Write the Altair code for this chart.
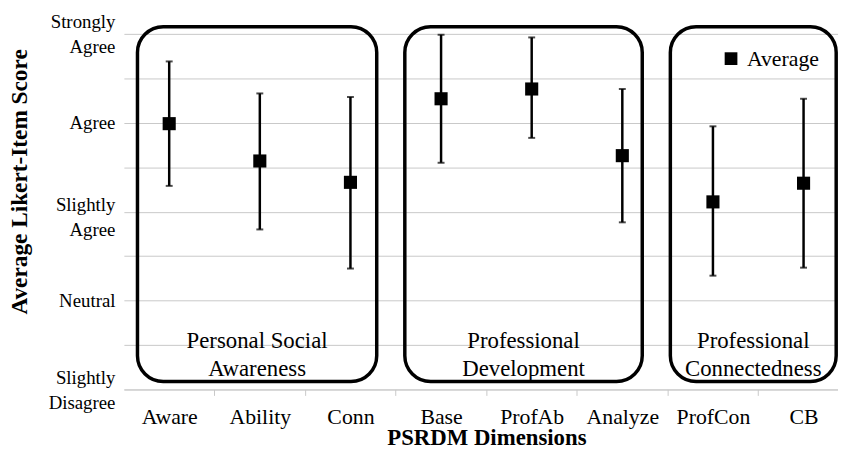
import altair as alt
import pandas as pd

# ---- data ----
categories = ["Aware", "Ability", "Conn", "Base", "ProfAb", "Analyze", "ProfCon", "CB"]
means = [5.99, 5.57, 5.33, 6.27, 6.38, 5.63, 5.11, 5.32]
lower = [5.29, 4.80, 4.36, 5.55, 5.83, 4.88, 4.28, 4.37]
upper = [6.69, 6.33, 6.29, 6.99, 6.96, 6.38, 5.96, 6.27]

likert_values = [3, 4, 5, 6, 7]
likert_labels = ["Slightly Disagree", "Neutral", "Slightly Agree", "Agree", "Strongly Agree"]

group_labels = ["Personal Social Awareness", "Professional Development", "Professional Connectedness"]
group_lines = [["Personal Social", "Awareness"], ["Professional", "Development"], ["Professional", "Connectedness"]]
group_start = [-0.35, 2.60, 5.53]   # box extents in category-index units
group_end = [2.29, 5.22, 7.36]
box_bottom = 3.09
box_top = 7.08
group_text_y = 3.54

FONT = "'Liberation Serif', 'Times New Roman', Times, 'DejaVu Serif', serif"

df = pd.DataFrame({
    "idx": list(range(len(categories))),
    "cat": categories,
    "mean": means,
    "lo": lower,
    "hi": upper,
    "series": ["Average"] * len(categories),
})

gdf = pd.DataFrame({
    "g": group_labels,
    "lines": group_lines,
    "x0": group_start,
    "x1": group_end,
    "xc": [(a + b) / 2 for a, b in zip(group_start, group_end)],
    "y0": [box_bottom] * 3,
    "y1": [box_top] * 3,
    "ty": [group_text_y] * 3,
})

# label expressions built from the lists
cat_expr = "[" + ",".join(f"'{c}'" for c in categories) + "][round(datum.value)]"
parts = []
for v, lab in zip(likert_values, likert_labels):
    words = lab.split(" ")
    if len(words) > 1:
        txt = "[" + ",".join(f"'{w}'" for w in words) + "]"
    else:
        txt = f"'{lab}'"
    parts.append(f"datum.value == {v} ? {txt} : ")
y_expr = "".join(parts) + "''"

xscale = alt.Scale(domain=[-0.5, 7.38], nice=False, zero=False)
yscale = alt.Scale(domain=[3, 7], nice=False, zero=False)

GRID = "#c8c8c8"

xaxis = alt.Axis(
    values=list(range(len(categories))),
    labelExpr=cat_expr,
    title="PSRDM Dimensions",
    titleFont=FONT, titleFontSize=23, titleFontWeight="bold", titleColor="black",
    titleX=366, titleY=56, titleAlign="center", titleBaseline="alphabetic", titleAnchor="middle",
    labelFont=FONT, labelFontSize=22, labelColor="black", labelBaseline="alphabetic",
    labelPadding=28, tickSize=6, tickColor=GRID, tickOffset=45.75, labelOffset=-45.75,
    domainColor=GRID, domainWidth=1, grid=False, labelFlush=False, labelOverlap=False,
)

yaxis = alt.Axis(
    values=[3, 3.5, 4, 4.5, 5, 5.5, 6, 6.5, 7],
    labelExpr=y_expr,
    title="Average Likert-Item Score",
    titleFont=FONT, titleFontSize=23.5, titleFontWeight="bold", titleColor="black",
    titleX=-105, titleY=149, titleAlign="center", titleBaseline="middle", titleAngle=-90,
    labelFont=FONT, labelFontSize=19, labelColor="black", labelLineHeight=25,
    labelBaseline="middle", labelAlign="right", labelPadding=9,
    labelOffset={"expr": "datum.value == 5 ? -7 : (datum.value == 3 || datum.value == 7) ? -12 : 0"},
    ticks=False, domain=False, grid=True, gridColor=GRID, gridWidth=1,
    labelFlush=False, labelOverlap=False,
)

base = alt.Chart(df)

rules = base.mark_rule(color="black", strokeWidth=2.5).encode(
    x=alt.X("idx:Q", scale=xscale, axis=xaxis),
    y=alt.Y("lo:Q", scale=yscale, axis=yaxis),
    y2="hi:Q",
)
cap_lo = base.mark_tick(color="black", orient="horizontal", size=7, thickness=2).encode(
    x=alt.X("idx:Q", scale=xscale), y=alt.Y("lo:Q", scale=yscale)
)
cap_hi = base.mark_tick(color="black", orient="horizontal", size=7, thickness=2).encode(
    x=alt.X("idx:Q", scale=xscale), y=alt.Y("hi:Q", scale=yscale)
)
points = base.mark_point(filled=True, color="black", opacity=1, size=175, strokeWidth=0).encode(
    x=alt.X("idx:Q", scale=xscale),
    y=alt.Y("mean:Q", scale=yscale),
    shape=alt.Shape(
        "series:N",
        scale=alt.Scale(domain=["Average"], range=["square"]),
        legend=alt.Legend(
            title=None, orient="none", legendX=602, legendY=14,
            labelFont=FONT, labelFontSize=22, labelColor="black",
            symbolSize=165, symbolFillColor="black", symbolStrokeColor="black",
            symbolStrokeWidth=0, labelOffset=5, padding=0,
        ),
    ),
)

boxes = alt.Chart(gdf).mark_rect(
    fill="white", fillOpacity=0, stroke="black", strokeWidth=3.5, cornerRadius=26
).encode(
    x=alt.X("x0:Q", scale=xscale), x2="x1:Q",
    y=alt.Y("y0:Q", scale=yscale), y2="y1:Q",
)
texts = alt.Chart(gdf).mark_text(
    font=FONT, fontSize=23, color="black", align="center", baseline="middle", lineHeight=28
).encode(
    x=alt.X("xc:Q", scale=xscale),
    y=alt.Y("ty:Q", scale=yscale),
    text="lines",
)

chart = alt.layer(rules, cap_lo, cap_hi, boxes, texts, points).properties(
    width=721, height=359,
    autosize=alt.AutoSizeParams(type="none"),
    padding={"left": 117, "top": 24, "right": 0, "bottom": 58},
    background="white",
).configure_view(stroke=None)

chart.save("out.html", embed_options={"renderer": "svg", "actions": False})
